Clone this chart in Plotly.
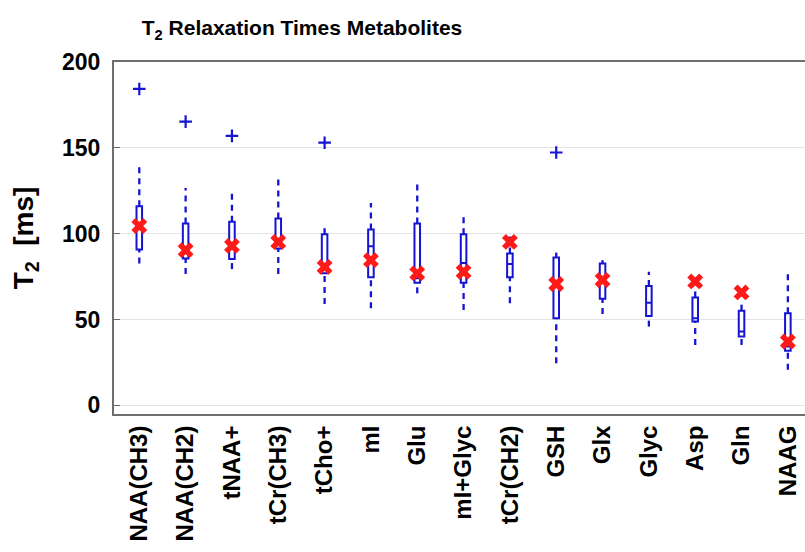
import plotly.graph_objects as go

cats = ["NAA(CH3)", "NAA(CH2)", "tNAA+", "tCr(CH3)", "tCho+", "mI", "Glu",
        "mI+Glyc", "tCr(CH2)", "GSH", "Glx", "Glyc", "Asp", "Gln", "NAAG"]
whisk_lo = [82.7, 76.5, 79.4, 76.5, 59.1, 56.6, 65.3, 55.6, 59.5, 24.6, 53.2, 45.9, 35.2, 35.2, 20.7]
q1 = [90.8, 85.6, 85.2, 91.4, 76.9, 74.6, 71.4, 71.4, 74.6, 50.7, 62.1, 52.1, 48.8, 40.1, 31.9]
median = [104.5, 90.0, 93.0, 94.0, 79.0, 92.7, 74.0, 83.0, 82.3, 72.0, 73.0, 59.8, 50.7, 43.0, 34.3]
q3 = [116.0, 105.9, 106.9, 108.8, 99.7, 102.4, 105.9, 99.7, 88.5, 86.2, 82.7, 69.5, 62.9, 55.2, 53.7]
whisk_hi = [138.8, 126.6, 125.8, 133.0, 104.5, 117.9, 130.7, 110.2, 99.1, 89.0, 84.6, 77.8, 67.2, 60.4, 77.8]
ref_vals = [104.5, 90.4, 92.9, 95.2, 80.7, 84.6, 76.9, 77.8, 95.2, 70.7, 73.0, None, 72.2, 65.8, 37.2]
outlier_cats = ["NAA(CH3)", "NAA(CH2)", "tNAA+", "tCho+", "GSH"]
outlier_vals = [184.3, 165.3, 157.0, 153.0, 147.3]
y_ticks = [0, 50, 100, 150, 200]

BLUE = "#1414d2"
RED = "#ff1a1a"
FONT = "Liberation Sans, Arial, sans-serif"

fig = go.Figure()

# dashed whiskers
wx, wy = [], []
for c, lo, a, b, hi in zip(cats, whisk_lo, q1, q3, whisk_hi):
    wx += [c, c, None, c, c, None]
    wy += [b, hi, None, lo, a, None]
fig.add_trace(go.Scatter(x=wx, y=wy, mode="lines",
                         line=dict(color=BLUE, width=2.3, dash="6px,5px"),
                         hoverinfo="skip", showlegend=False))

# boxes
fig.add_trace(go.Box(x=cats, q1=q1, median=median, q3=q3,
                     lowerfence=q1, upperfence=q3, width=0.12,
                     whiskerwidth=0, boxpoints=False,
                     line=dict(color=BLUE, width=2), fillcolor="white",
                     showlegend=False))

# outliers
fig.add_trace(go.Scatter(x=outlier_cats, y=outlier_vals, mode="markers",
                         marker=dict(symbol="cross-thin", size=9,
                                     line=dict(color=BLUE, width=2.2)),
                         showlegend=False))

# red reference markers
fig.add_trace(go.Scatter(x=cats, y=ref_vals, mode="markers",
                         marker=dict(symbol="x", size=14, color=RED,
                                     line=dict(width=0)),
                         showlegend=False))

fig.update_layout(
    width=805, height=552,
    margin=dict(l=114, r=0, t=62, b=138),
    paper_bgcolor="white", plot_bgcolor="white",
    font=dict(family=FONT, color="black", weight="bold"),
    title=dict(text="T<sub>2</sub> Relaxation Times Metabolites",
               x=302 / 805, xanchor="center", xref="container",
               y=1 - 28 / 552, yanchor="middle", yref="container",
               font=dict(size=21, family=FONT, weight="bold")),
    showlegend=False,
)
fig.update_xaxes(type="category", categoryorder="array", categoryarray=cats,
                 range=[-0.546, 14.37], tickangle=-90,
                 tickfont=dict(size=24, family=FONT, weight="bold"),
                 showline=True, linecolor="#6e6e6e", linewidth=2, mirror=True,
                 showgrid=False, ticks="")
fig.update_yaxes(range=[-5, 200], tickvals=y_ticks,
                 tickfont=dict(size=23, family=FONT, weight="bold"),
                 showline=True, linecolor="#6e6e6e", linewidth=2,
                 ticks="inside", ticklen=6, tickcolor="#6e6e6e",
                 ticklabelstandoff=7,
                 showgrid=True, gridcolor="#e3e3e3", gridwidth=1,
                 zeroline=True, zerolinecolor="#e3e3e3", zerolinewidth=1,
                 title=dict(text="T<sub>2</sub>  [ms]",
                            font=dict(size=28, family=FONT, weight="bold"),
                            standoff=20))

fig.write_html("out.html")
